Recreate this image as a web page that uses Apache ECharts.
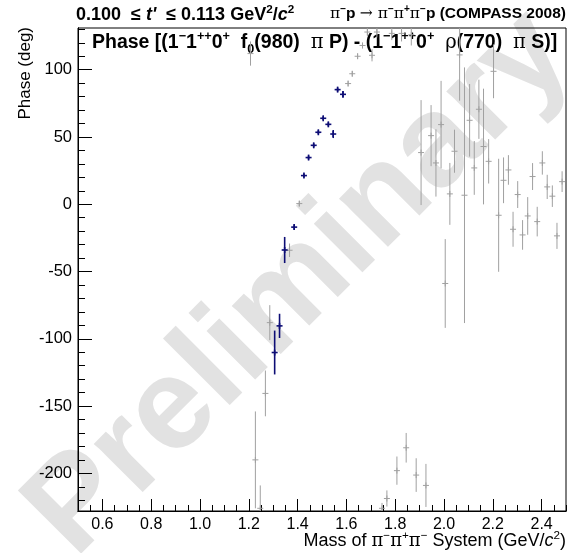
<!DOCTYPE html>
<html>
<head>
<meta charset="utf-8">
<script src="https://cdn.jsdelivr.net/npm/echarts@6/dist/echarts.min.js"></script>
<style>
  html, body { margin: 0; padding: 0; background: #fff; }
  #chart { width: 571px; height: 553px; }
</style>
</head>
<body>
<div id="chart"></div>
<script>
// fit range points (blue)
const blueMass = [1.306, 1.326, 1.347, 1.386, 1.426, 1.445, 1.466, 1.485, 1.505, 1.526, 1.546, 1.564, 1.586]
const bluePhase = [-110.2, -90.4, -34, -17, 21.3, 34.7, 43.8, 53.5, 63.9, 59.4, 52.2, 85.2, 81.7]
const blueErr = [16.3, 9, 9.7, 2, 1.5, 1.5, 1.5, 1.5, 1.5, 1.5, 3, 1.5, 2.5]

// all other points (gray)
const grayMass = [1.207, 1.227, 1.247, 1.268, 1.286, 1.367, 1.407, 1.607, 1.624, 1.646,
  1.666, 1.686, 1.705, 1.725, 1.746, 1.766, 1.786, 1.807, 1.826, 1.845,
  1.866, 1.886, 1.906, 1.926, 1.947, 1.967, 1.988, 2.005, 2.024, 2.043,
  2.064, 2.084, 2.105, 2.124, 2.143, 2.162, 2.183, 2.203, 2.224, 2.244,
  2.264, 2.283, 2.302, 2.322, 2.343, 2.363, 2.382, 2.403, 2.423, 2.444,
  2.463, 2.484]
const grayPhase = [112, -190, -226, -140.6, -88, -34.2, 0.5, 89.7, 97, 110,
  118, 128, 110.7, 128, -226, -218.7, 127, -198, 127, -181,
  126, -201.3, 38.4, -209, 51, 30.7, 59.2, -58.9, 7.7, 39.4,
  111, 6.7, 62.4, 27, 70.6, 42.9, 31.9, 98.8, -8.2, 17.8,
  25.5, -18.6, 7.2, -22.8, -8.7, 20.6, -12.9, 30.7, 12.9, 6,
  -23.5, 16.8]
const grayErr = [9, 36, 17, 17, 13, 5, 2, 2, 2, 2,
  2, 3, 4.5, 4, 4, 6, 5, 10.5, 6, 11,
  8, 12.5, 39, 16, 22.7, 25, 32.5, 33, 23, 16,
  34, 95, 27, 20, 22, 43, 16.5, 20, 42, 17,
  11, 13, 10, 11, 14, 10, 11, 8.7, 9, 8,
  9.7, 7.7]

const xMajor = [0.6, 0.8, 1.0, 1.2, 1.4, 1.6, 1.8, 2.0, 2.2, 2.4]
const yMajor = [-200, -150, -100, -50, 0, 50, 100]
const yMinor = [-220, -210, -190, -180, -170, -160, -140, -130, -120, -110, -90, -80, -70, -60,
  -40, -30, -20, -10, 10, 20, 30, 40, 60, 70, 80, 90, 110, 120, 130]

const chart = echarts.init(document.getElementById('chart'))

function errSeries(name, mass, phase, err, color, width) {
  return {
    name: name,
    type: 'custom',
    xAxisIndex: 0,
    yAxisIndex: 0,
    clip: true,
    data: mass.map((m, i) => [m, phase[i], err[i]]),
    renderItem(params, api) {
      const c = api.coord([api.value(0), api.value(1)])
      const hi = api.coord([api.value(0), api.value(1) + api.value(2)])
      const lo = api.coord([api.value(0), api.value(1) - api.value(2)])
      const st = { stroke: color, lineWidth: width }
      return {
        type: 'group',
        children: [
          { type: 'line', shape: { x1: c[0], y1: hi[1], x2: c[0], y2: lo[1] }, style: st },
          { type: 'line', shape: { x1: c[0], y1: c[1] - 3, x2: c[0], y2: c[1] + 3 }, style: st },
          { type: 'line', shape: { x1: c[0] - 3, y1: c[1], x2: c[0] + 3, y2: c[1] }, style: st }
        ]
      }
    }
  }
}

const font = 'Liberation Sans, Arial, Helvetica, sans-serif'
const sym = 'DejaVu Serif, Liberation Serif, serif'

function richSet(fs, bold) {
  const w = bold ? 'bold' : 'normal'
  return {
    n: { fontFamily: font, fontWeight: w, fontSize: fs, color: '#000', lineHeight: fs * 1.3 },
    i: { fontFamily: font, fontWeight: w, fontStyle: 'italic', fontSize: fs, color: '#000', lineHeight: fs * 1.3 },
    s: { fontFamily: sym, fontSize: fs, color: '#000', lineHeight: fs * 1.3 },
    sup: { fontFamily: font, fontWeight: w, fontSize: fs * 0.65, color: '#000', lineHeight: fs * 1.3, verticalAlign: 'top', padding: [0, 0, fs * 0.45, 0] },
    sub: { fontFamily: font, fontWeight: w, fontSize: fs * 0.65, color: '#000', lineHeight: fs * 1.3, verticalAlign: 'bottom', padding: [fs * 0.3, 0, 0, 0] }
  }
}

const axisCommon = {
  type: 'value',
  splitLine: { show: false },
  axisLine: { show: true, onZero: false, lineStyle: { color: '#000', width: 1 } }
}

chart.setOption({
  animation: false,
  grid: { left: 78, right: 5, top: 28, bottom: 42, show: true, borderColor: '#000', borderWidth: 1, backgroundColor: 'transparent' },
  xAxis: [
    Object.assign({}, axisCommon, {
      min: 0.5, max: 2.5, interval: 0.05,
      axisTick: { inside: true, length: 6, lineStyle: { color: '#000' } },
      axisLabel: { show: false }
    }),
    Object.assign({}, axisCommon, {
      min: 0.5, max: 2.5, position: 'bottom',
      axisTick: { inside: true, length: 12, customValues: xMajor, lineStyle: { color: '#000' } },
      axisLabel: {
        customValues: xMajor, margin: 6, fontSize: 16, fontFamily: font, color: '#000',
        formatter: v => v.toFixed(1)
      }
    })
  ],
  yAxis: [
    Object.assign({}, axisCommon, {
      min: -228, max: 131,
      axisTick: { inside: true, length: 7, customValues: yMinor, lineStyle: { color: '#000' } },
      axisLabel: { show: false }
    }),
    Object.assign({}, axisCommon, {
      min: -228, max: 131, position: 'left',
      axisTick: { inside: true, length: 14, customValues: yMajor, lineStyle: { color: '#000' } },
      axisLabel: { customValues: yMajor, margin: 6, fontSize: 16.5, fontFamily: font, color: '#000' }
    })
  ],
  graphic: [
    {
      type: 'text', z: -10, x: 300, y: 284, rotation: Math.PI / 4,
      style: { text: 'Preliminary', font: 'bold 130px ' + font, fill: '#e2e2e2', align: 'center', verticalAlign: 'middle' }
    },
    {
      type: 'text', x: 76, y: 15,
      style: {
        text: '{n|0.100  ≤ }{i|t\'}{n|  ≤ 0.113 GeV}{sup|2}{n|/}{i|c}{sup|2}',
        rich: richSet(18, true), align: 'left', verticalAlign: 'middle'
      }
    },
    {
      type: 'text', x: 566, y: 14,
      style: {
        text: '{s|π}{sup|−}{n|p }{s|→ π}{sup|−}{s|π}{sup|+}{s|π}{sup|−}{n|p (COMPASS 2008)}',
        rich: richSet(15.5, true), align: 'right', verticalAlign: 'middle'
      }
    },
    {
      type: 'text', x: 92, y: 43,
      style: {
        text: '{n|Phase [(1}{sup|−}{n|1}{sup|++}{n|0}{sup|+}{n|  f}{sub|0}{n|(980)  }{s|π}{n| P) - (1}{sup|−}{n|1}{sup|++}{n|0}{sup|+}{n|  }{s|ρ}{n|(770)  }{s|π}{n| S)]}',
        rich: richSet(19.5, true), align: 'left', verticalAlign: 'middle'
      }
    },
    {
      type: 'text', x: 566, y: 541,
      style: {
        text: '{n|Mass of }{s|π}{sup|−}{s|π}{sup|+}{s|π}{sup|−}{n| System (GeV/}{i|c}{sup|2}{n|)}',
        rich: richSet(18, false), align: 'right', verticalAlign: 'middle'
      }
    },
    {
      type: 'text', x: 25, y: 27, rotation: Math.PI / 2,
      style: { text: 'Phase (deg)', font: '17px ' + font, fill: '#000', align: 'right', verticalAlign: 'middle' }
    }
  ],
  series: [
    errSeries('gray', grayMass, grayPhase, grayErr, '#a0a0a0', 1),
    errSeries('blue', blueMass, bluePhase, blueErr, '#0d0d75', 1.6)
  ]
})
</script>
</body>
</html>
